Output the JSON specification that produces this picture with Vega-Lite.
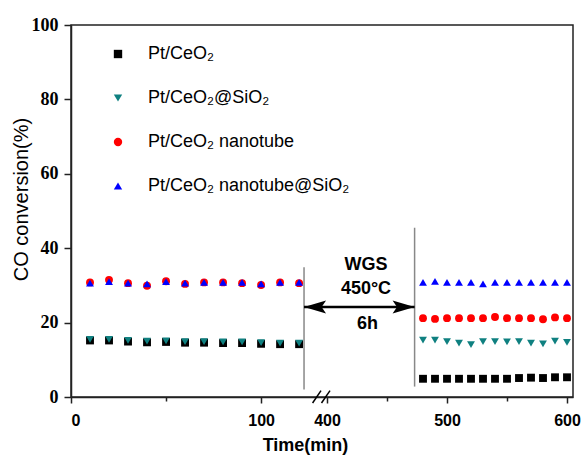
{
  "$schema": "https://vega.github.io/schema/vega-lite/v6.json",
  "width": 502,
  "height": 372,
  "autosize": {"type": "none"},
  "padding": {"left": 71, "top": 25, "right": 11, "bottom": 60},
  "background": "white",
  "config": {
    "view": {"stroke": "#222", "strokeWidth": 1.5},
    "axis": {"grid": false, "domainColor": "#222", "domainWidth": 1.5, "tickColor": "#222", "tickWidth": 1.5}
  },
  "datasets": {
    "conversion": [
      {"s": "Pt/CeO₂", "t": 10, "v": 15.2}, {"s": "Pt/CeO₂", "t": 20, "v": 15.2}, {"s": "Pt/CeO₂", "t": 30, "v": 14.9}, {"s": "Pt/CeO₂", "t": 40, "v": 14.7}, {"s": "Pt/CeO₂", "t": 50, "v": 14.8}, {"s": "Pt/CeO₂", "t": 60, "v": 14.6}, {"s": "Pt/CeO₂", "t": 70, "v": 14.6}, {"s": "Pt/CeO₂", "t": 80, "v": 14.5}, {"s": "Pt/CeO₂", "t": 90, "v": 14.5}, {"s": "Pt/CeO₂", "t": 100, "v": 14.3}, {"s": "Pt/CeO₂", "t": 110, "v": 14.2}, {"s": "Pt/CeO₂", "t": 120, "v": 14.2},
      {"s": "Pt/CeO₂", "t": 480, "v": 4.9}, {"s": "Pt/CeO₂", "t": 490, "v": 4.9}, {"s": "Pt/CeO₂", "t": 500, "v": 4.9}, {"s": "Pt/CeO₂", "t": 510, "v": 4.9}, {"s": "Pt/CeO₂", "t": 520, "v": 4.9}, {"s": "Pt/CeO₂", "t": 530, "v": 4.9}, {"s": "Pt/CeO₂", "t": 540, "v": 4.9}, {"s": "Pt/CeO₂", "t": 550, "v": 4.9}, {"s": "Pt/CeO₂", "t": 560, "v": 5.1}, {"s": "Pt/CeO₂", "t": 570, "v": 5.2}, {"s": "Pt/CeO₂", "t": 580, "v": 5.1}, {"s": "Pt/CeO₂", "t": 590, "v": 5.3}, {"s": "Pt/CeO₂", "t": 600, "v": 5.3},
      {"s": "Pt/CeO₂@SiO₂", "t": 10, "v": 15.5}, {"s": "Pt/CeO₂@SiO₂", "t": 20, "v": 15.5}, {"s": "Pt/CeO₂@SiO₂", "t": 30, "v": 15.2}, {"s": "Pt/CeO₂@SiO₂", "t": 40, "v": 15.0}, {"s": "Pt/CeO₂@SiO₂", "t": 50, "v": 15.1}, {"s": "Pt/CeO₂@SiO₂", "t": 60, "v": 14.9}, {"s": "Pt/CeO₂@SiO₂", "t": 70, "v": 14.9}, {"s": "Pt/CeO₂@SiO₂", "t": 80, "v": 14.8}, {"s": "Pt/CeO₂@SiO₂", "t": 90, "v": 14.8}, {"s": "Pt/CeO₂@SiO₂", "t": 100, "v": 14.6}, {"s": "Pt/CeO₂@SiO₂", "t": 110, "v": 14.5}, {"s": "Pt/CeO₂@SiO₂", "t": 120, "v": 14.5},
      {"s": "Pt/CeO₂@SiO₂", "t": 480, "v": 15.3}, {"s": "Pt/CeO₂@SiO₂", "t": 490, "v": 15.3}, {"s": "Pt/CeO₂@SiO₂", "t": 500, "v": 14.9}, {"s": "Pt/CeO₂@SiO₂", "t": 510, "v": 14.5}, {"s": "Pt/CeO₂@SiO₂", "t": 520, "v": 14.1}, {"s": "Pt/CeO₂@SiO₂", "t": 530, "v": 14.9}, {"s": "Pt/CeO₂@SiO₂", "t": 540, "v": 14.9}, {"s": "Pt/CeO₂@SiO₂", "t": 550, "v": 14.8}, {"s": "Pt/CeO₂@SiO₂", "t": 560, "v": 14.9}, {"s": "Pt/CeO₂@SiO₂", "t": 570, "v": 14.5}, {"s": "Pt/CeO₂@SiO₂", "t": 580, "v": 14.3}, {"s": "Pt/CeO₂@SiO₂", "t": 590, "v": 15.0}, {"s": "Pt/CeO₂@SiO₂", "t": 600, "v": 14.7},
      {"s": "Pt/CeO₂ nanotube", "t": 10, "v": 30.8}, {"s": "Pt/CeO₂ nanotube", "t": 20, "v": 31.5}, {"s": "Pt/CeO₂ nanotube", "t": 30, "v": 30.6}, {"s": "Pt/CeO₂ nanotube", "t": 40, "v": 29.9}, {"s": "Pt/CeO₂ nanotube", "t": 50, "v": 31.1}, {"s": "Pt/CeO₂ nanotube", "t": 60, "v": 30.4}, {"s": "Pt/CeO₂ nanotube", "t": 70, "v": 30.8}, {"s": "Pt/CeO₂ nanotube", "t": 80, "v": 30.8}, {"s": "Pt/CeO₂ nanotube", "t": 90, "v": 30.6}, {"s": "Pt/CeO₂ nanotube", "t": 100, "v": 30.1}, {"s": "Pt/CeO₂ nanotube", "t": 110, "v": 30.8}, {"s": "Pt/CeO₂ nanotube", "t": 120, "v": 30.6},
      {"s": "Pt/CeO₂ nanotube", "t": 480, "v": 21.2}, {"s": "Pt/CeO₂ nanotube", "t": 490, "v": 21.0}, {"s": "Pt/CeO₂ nanotube", "t": 500, "v": 21.2}, {"s": "Pt/CeO₂ nanotube", "t": 510, "v": 21.2}, {"s": "Pt/CeO₂ nanotube", "t": 520, "v": 21.2}, {"s": "Pt/CeO₂ nanotube", "t": 530, "v": 21.2}, {"s": "Pt/CeO₂ nanotube", "t": 540, "v": 21.5}, {"s": "Pt/CeO₂ nanotube", "t": 550, "v": 21.2}, {"s": "Pt/CeO₂ nanotube", "t": 560, "v": 21.2}, {"s": "Pt/CeO₂ nanotube", "t": 570, "v": 21.2}, {"s": "Pt/CeO₂ nanotube", "t": 580, "v": 20.9}, {"s": "Pt/CeO₂ nanotube", "t": 590, "v": 21.4}, {"s": "Pt/CeO₂ nanotube", "t": 600, "v": 21.2},
      {"s": "Pt/CeO₂ nanotube@SiO₂", "t": 10, "v": 30.6}, {"s": "Pt/CeO₂ nanotube@SiO₂", "t": 20, "v": 31.0}, {"s": "Pt/CeO₂ nanotube@SiO₂", "t": 30, "v": 30.6}, {"s": "Pt/CeO₂ nanotube@SiO₂", "t": 40, "v": 30.4}, {"s": "Pt/CeO₂ nanotube@SiO₂", "t": 50, "v": 31.0}, {"s": "Pt/CeO₂ nanotube@SiO₂", "t": 60, "v": 30.6}, {"s": "Pt/CeO₂ nanotube@SiO₂", "t": 70, "v": 30.8}, {"s": "Pt/CeO₂ nanotube@SiO₂", "t": 80, "v": 30.8}, {"s": "Pt/CeO₂ nanotube@SiO₂", "t": 90, "v": 30.8}, {"s": "Pt/CeO₂ nanotube@SiO₂", "t": 100, "v": 30.4}, {"s": "Pt/CeO₂ nanotube@SiO₂", "t": 110, "v": 30.8}, {"s": "Pt/CeO₂ nanotube@SiO₂", "t": 120, "v": 30.8},
      {"s": "Pt/CeO₂ nanotube@SiO₂", "t": 480, "v": 30.8}, {"s": "Pt/CeO₂ nanotube@SiO₂", "t": 490, "v": 31.1}, {"s": "Pt/CeO₂ nanotube@SiO₂", "t": 500, "v": 30.8}, {"s": "Pt/CeO₂ nanotube@SiO₂", "t": 510, "v": 30.8}, {"s": "Pt/CeO₂ nanotube@SiO₂", "t": 520, "v": 30.8}, {"s": "Pt/CeO₂ nanotube@SiO₂", "t": 530, "v": 30.4}, {"s": "Pt/CeO₂ nanotube@SiO₂", "t": 540, "v": 30.8}, {"s": "Pt/CeO₂ nanotube@SiO₂", "t": 550, "v": 30.8}, {"s": "Pt/CeO₂ nanotube@SiO₂", "t": 560, "v": 30.8}, {"s": "Pt/CeO₂ nanotube@SiO₂", "t": 570, "v": 30.8}, {"s": "Pt/CeO₂ nanotube@SiO₂", "t": 580, "v": 30.8}, {"s": "Pt/CeO₂ nanotube@SiO₂", "t": 590, "v": 30.8}, {"s": "Pt/CeO₂ nanotube@SiO₂", "t": 600, "v": 30.8}
    ],
    "phases": [
      {"t": 122.6, "lo": 2.0, "hi": 34.9},
      {"t": 473, "lo": 2.8, "hi": 45.5}
    ],
    "arrow": [
      {"from": 122.6, "to": 473, "level": 24.2}
    ],
    "notes": [
      {"label": "WGS", "t": 432.5, "v": 35.6},
      {"label": "450°C", "t": 432.5, "v": 29.0},
      {"label": "6h", "t": 433.7, "v": 19.6}
    ],
    "breaks": [
      {"xa": 127.1, "xb": 169.4, "ya": -1.6, "yb": 1.7},
      {"xa": 188.6, "xb": 402.5, "ya": -1.6, "yb": 1.7}
    ]
  },
  "layer": [
    {
      "data": {"name": "conversion"},
      "mark": {"type": "point", "filled": true, "opacity": 1, "size": 62, "strokeWidth": 0},
      "encoding": {
        "x": {
          "field": "t", "type": "quantitative",
          "scale": {"domain": [0, 131, 400, 605], "range": [0, 249, 256, 502], "nice": false, "zero": false},
          "axis": {
            "title": "Time(min)",
            "values": [0, 50, 100, 400, 450, 500, 550, 600],
            "labelExpr": "datum.value % 100 === 0 ? datum.label : ''",
            "tickSize": {"condition": {"test": "datum.value % 100 === 0", "value": 6}, "value": 4},
            "labelFont": "Liberation Sans", "labelFontWeight": "bold", "labelFontSize": 16, "labelColor": "#000",
            "labelPadding": 9,
            "titleFont": "Liberation Sans", "titleFontWeight": "bold", "titleFontSize": 18, "titleColor": "#000",
            "titleX": 234, "titleY": 48, "titleBaseline": "middle", "titleAlign": "center"
          }
        },
        "y": {
          "field": "v", "type": "quantitative",
          "scale": {"domain": [0, 100], "nice": false, "zero": true},
          "axis": {
            "title": "CO conversion(%)",
            "values": [0, 10, 20, 30, 40, 50, 60, 70, 80, 90, 100],
            "labelExpr": "datum.value % 20 === 0 ? datum.label : ''",
            "tickSize": {"condition": {"test": "datum.value % 20 === 0", "value": 7}, "value": 4},
            "labelFont": "Liberation Serif", "labelFontWeight": "bold", "labelFontSize": 18, "labelColor": "#000",
            "labelPadding": 6,
            "titleFont": "Liberation Sans", "titleFontWeight": "normal", "titleFontSize": 20, "titleColor": "#000",
            "titleX": -50, "titleY": 174, "titleAngle": -90, "titleBaseline": "middle", "titleAlign": "center"
          }
        },
        "color": {
          "field": "s", "type": "nominal",
          "scale": {"domain": ["Pt/CeO₂", "Pt/CeO₂@SiO₂", "Pt/CeO₂ nanotube", "Pt/CeO₂ nanotube@SiO₂"], "range": ["#000000", "#0f8080", "#ff0000", "#0000ff"]},
          "legend": {"title": null, "orient": "none", "legendX": 38, "legendY": 20, "padding": 0, "labelFont": "Liberation Sans", "labelFontSize": 18, "labelColor": "#000", "symbolSize": 70, "symbolStrokeWidth": 0, "rowPadding": 26, "labelOffset": 21, "labelLimit": 400}
        },
        "shape": {
          "field": "s", "type": "nominal",
          "scale": {"domain": ["Pt/CeO₂", "Pt/CeO₂@SiO₂", "Pt/CeO₂ nanotube", "Pt/CeO₂ nanotube@SiO₂"], "range": ["square", "triangle-down", "circle", "triangle-up"]},
          "legend": {"title": null, "orient": "none", "legendX": 38, "legendY": 20, "padding": 0, "labelFont": "Liberation Sans", "labelFontSize": 18, "labelColor": "#000", "symbolSize": 70, "symbolStrokeWidth": 0, "rowPadding": 26, "labelOffset": 21, "labelLimit": 400}
        }
      }
    },
    {
      "data": {"name": "phases"},
      "mark": {"type": "rule", "color": "#888888", "strokeWidth": 1.5},
      "encoding": {
        "x": {"field": "t", "type": "quantitative", "title": "Time(min)"},
        "y": {"field": "lo", "type": "quantitative", "title": "CO conversion(%)"},
        "y2": {"field": "hi"}
      }
    },
    {
      "data": {"name": "arrow"},
      "mark": {"type": "rule", "color": "#000", "strokeWidth": 2.5},
      "encoding": {
        "x": {"field": "from", "type": "quantitative", "title": "Time(min)"},
        "x2": {"field": "to"},
        "y": {"field": "level", "type": "quantitative", "title": "CO conversion(%)"}
      }
    },
    {
      "data": {"name": "arrow"},
      "mark": {"type": "point", "shape": "M0,0L2,-0.6L1.6,0L2,0.6Z", "filled": true, "opacity": 1, "size": 484, "color": "#000", "strokeWidth": 0},
      "encoding": {
        "x": {"field": "from", "type": "quantitative", "title": "Time(min)"},
        "y": {"field": "level", "type": "quantitative", "title": "CO conversion(%)"}
      }
    },
    {
      "data": {"name": "arrow"},
      "mark": {"type": "point", "shape": "M0,0L-2,-0.6L-1.6,0L-2,0.6Z", "filled": true, "opacity": 1, "size": 484, "color": "#000", "strokeWidth": 0},
      "encoding": {
        "x": {"field": "to", "type": "quantitative", "title": "Time(min)"},
        "y": {"field": "level", "type": "quantitative", "title": "CO conversion(%)"}
      }
    },
    {
      "data": {"name": "notes"},
      "mark": {"type": "text", "font": "Liberation Sans", "fontWeight": "bold", "fontSize": 18, "color": "#000", "align": "center", "baseline": "middle"},
      "encoding": {
        "x": {"field": "t", "type": "quantitative", "title": "Time(min)"},
        "y": {"field": "v", "type": "quantitative", "title": "CO conversion(%)"},
        "text": {"field": "label"}
      }
    },
    {
      "data": {"name": "breaks"},
      "mark": {"type": "rule", "color": "#000", "strokeWidth": 1.5},
      "encoding": {
        "x": {"field": "xa", "type": "quantitative", "title": "Time(min)"},
        "x2": {"field": "xb"},
        "y": {"field": "ya", "type": "quantitative", "title": "CO conversion(%)"},
        "y2": {"field": "yb"}
      }
    }
  ]
}
